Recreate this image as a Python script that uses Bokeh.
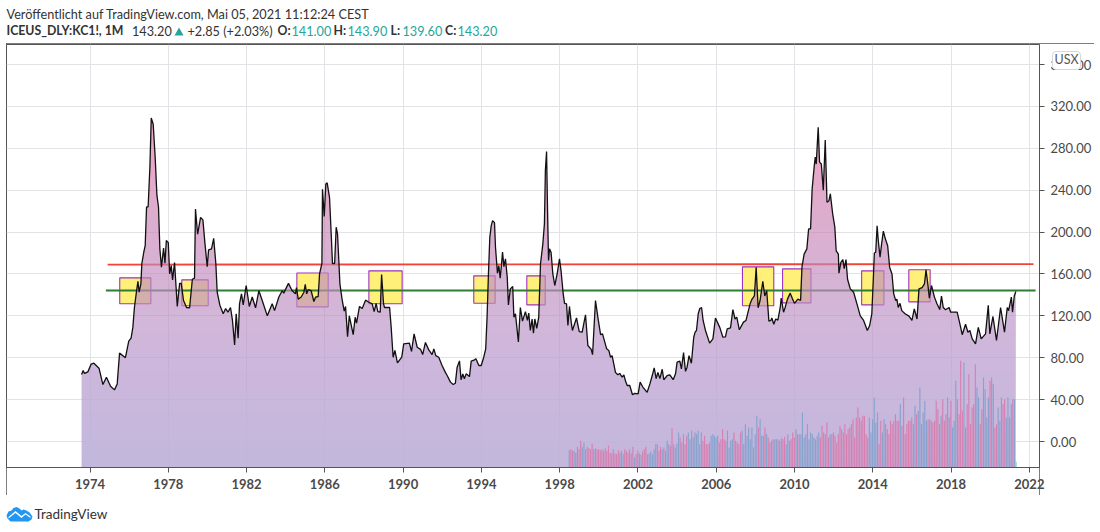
import numpy as np
from bokeh.plotting import figure
from bokeh.embed import file_html
from bokeh.resources import INLINE
from bokeh.layouts import column
from bokeh.models import FixedTicker, NumeralTickFormatter, Range1d, Label, PolyAnnotation, Div

# ---------- price (year, close) ----------
price_points = [
(1973.57,64),(1973.65,67.8),(1973.72,65),(1973.89,66.5),(1974.06,74),(1974.2,74.8),(1974.46,70),(1974.66,54.4),
(1974.84,61.4),(1975.05,52.8),(1975.25,49.3),(1975.39,55),(1975.51,84.4),(1975.81,80),(1975.98,95.8),(1976.1,98.7),
(1976.19,109),(1976.27,128),(1976.38,144),(1976.45,153),(1976.51,142.6),(1976.6,150.6),(1976.65,170),(1976.75,181),
(1976.82,187),(1976.89,224),(1976.97,224),(1977.06,262),(1977.13,309),(1977.23,303),(1977.33,271.6),(1977.42,235),
(1977.5,224),(1977.57,184),(1977.65,166.5),(1977.76,184.7),(1977.83,170.3),(1977.9,192),(1978.0,190),(1978.07,160),
(1978.15,168),(1978.22,154.4),(1978.32,171),(1978.46,129),(1978.58,151),(1978.66,151),(1978.78,134.7),(1978.93,128),
(1979.09,127.7),(1979.23,155),(1979.34,156),(1979.39,222),(1979.5,198),(1979.65,214),(1979.77,211.7),(1979.87,190),
(1979.99,167),(1980.06,183),(1980.21,184),(1980.32,194),(1980.43,170),(1980.5,142.6),(1980.64,130),(1980.81,122),
(1980.93,127),(1981.05,123.5),(1981.18,128),(1981.28,115.6),(1981.39,92.3),(1981.47,122),(1981.57,98.7),(1981.64,131.5),
(1981.74,141),(1981.83,130.5),(1981.98,149),(1982.14,129),(1982.29,138),(1982.46,127.7),(1982.63,144),(1982.8,134.7),
(1983.06,120),(1983.31,131.5),(1983.43,125),(1983.65,138),(1983.82,144),(1983.9,141.7),(1984.14,151),(1984.33,144),
(1984.5,141),(1984.55,147),(1984.64,136),(1984.79,138),(1984.93,142.6),(1985.0,150),(1985.07,141),(1985.15,145),
(1985.3,144),(1985.44,133.7),(1985.53,138),(1985.66,138.5),(1985.73,160),(1985.85,170),(1985.88,241),(1985.97,215),
(1986.05,246),(1986.12,247),(1986.24,233),(1986.34,192),(1986.39,170),(1986.5,170),(1986.58,204.7),(1986.65,198),
(1986.77,150.6),(1986.89,134.7),(1986.99,124.5),(1987.06,129),(1987.16,100),(1987.25,120),(1987.45,102),(1987.55,118.7),
(1987.62,113),(1987.77,129),(1987.91,127),(1988.08,135),(1988.25,133),(1988.42,131.5),(1988.52,124),(1988.62,132),
(1988.71,124),(1988.83,123.5),(1988.9,159.5),(1989.0,131.5),(1989.05,128),(1989.31,128),(1989.39,109),(1989.49,80.5),
(1989.58,87),(1989.71,75),(1989.93,80.5),(1990.03,93.3),(1990.32,94),(1990.43,86),(1990.56,102.8),(1990.72,90),
(1990.89,88),(1991.0,83),(1991.14,94.6),(1991.31,87.5),(1991.48,83),(1991.57,88.5),(1991.67,82),(1991.82,80.5),
(1991.99,72.6),(1992.16,66),(1992.25,63),(1992.42,56.7),(1992.56,54.4),(1992.67,55.7),(1992.76,71),(1992.88,77),
(1992.96,59),(1993.05,64.6),(1993.13,60),(1993.22,64.6),(1993.39,62),(1993.48,76.7),(1993.65,78),(1993.72,79),
(1993.87,72.6),(1993.99,72.6),(1994.12,80.5),(1994.22,88.5),(1994.29,118.8),(1994.36,160),(1994.43,195),(1994.5,206),
(1994.57,211),(1994.67,209),(1994.72,185.6),(1994.82,160.8),(1994.89,168),(1994.96,156),(1995.03,169.7),(1995.08,181),
(1995.15,167),(1995.23,174.5),(1995.32,157),(1995.38,130.5),(1995.48,145.8),(1995.6,148),(1995.66,118.8),(1995.74,122),
(1995.89,95),(1995.99,128),(1996.1,115),(1996.25,124),(1996.35,115.6),(1996.42,122.6),(1996.5,106),(1996.59,117),
(1996.66,103.5),(1996.73,117),(1996.83,108),(1996.93,118.8),(1997.02,169.7),(1997.14,188.8),(1997.22,208),(1997.27,259),
(1997.33,277),(1997.38,220.6),(1997.43,172.9),(1997.48,184),(1997.56,180.8),(1997.65,160),(1997.75,149),(1997.87,160),
(1997.99,174.5),(1998.07,163),(1998.18,141),(1998.25,132),(1998.35,131.5),(1998.42,110.8),(1998.5,129),(1998.59,114),
(1998.65,106),(1998.86,118),(1999.0,105),(1999.15,104.4),(1999.23,112.4),(1999.32,121),(1999.44,91.7),(1999.61,88),
(1999.68,83),(1999.83,134.7),(1999.95,118.8),(2000.09,102),(2000.19,102.8),(2000.4,88.5),(2000.51,87),(2000.6,80.5),
(2000.68,82),(2000.85,66),(2000.97,63.7),(2001.07,65),(2001.19,61.4),(2001.28,63.7),(2001.36,58),(2001.45,53.5),
(2001.58,53.5),(2001.72,44.6),(2001.84,46),(2002.01,45.5),(2002.11,56.7),(2002.25,52),(2002.47,47),(2002.61,55),
(2002.73,63),(2002.83,70.4),(2002.93,60),(2003.02,66),(2003.12,60),(2003.24,69),(2003.32,59),(2003.49,63),
(2003.63,63.7),(2003.8,59),(2003.92,64.6),(2004.0,75.8),(2004.14,76.7),(2004.22,69.4),(2004.33,85),(2004.43,67),
(2004.51,71),(2004.61,82),(2004.73,74.8),(2004.85,99.6),(2004.92,104.4),(2004.99,106),(2005.08,122),(2005.16,127),
(2005.25,128),(2005.33,115.6),(2005.45,106),(2005.66,94),(2005.83,98),(2005.96,118),(2006.18,109),(2006.34,99.6),
(2006.47,100),(2006.56,107.6),(2006.73,108.6),(2006.85,126),(2006.96,117),(2007.05,118.8),(2007.18,106.7),(2007.39,114),
(2007.52,115.6),(2007.73,131.5),(2007.83,136),(2007.95,139),(2008.04,166.5),(2008.14,127.7),(2008.24,134.7),(2008.38,153),
(2008.48,139),(2008.58,144),(2008.69,115),(2008.79,115.6),(2008.84,118),(2008.94,112),(2009.04,117),(2009.15,116),
(2009.27,128),(2009.32,137),(2009.44,123.5),(2009.52,128),(2009.64,136),(2009.78,141.7),(2009.9,136),(2010.0,132),
(2010.17,136),(2010.31,134.7),(2010.38,166.5),(2010.49,179),(2010.63,184),(2010.72,203),(2010.82,203),(2010.9,241),
(2011.01,263.6),(2011.06,271.6),(2011.11,265),(2011.21,300),(2011.28,266.8),(2011.37,265),(2011.47,240),(2011.57,288),
(2011.66,228.6),(2011.76,230),(2011.83,236.5),(2011.95,217.4),(2012.06,204.7),(2012.13,182),(2012.24,179),(2012.27,160.8),
(2012.37,171),(2012.47,173.8),(2012.54,165),(2012.63,173.8),(2012.71,155),(2012.85,145.8),(2013.02,142.6),(2013.19,131.5),
(2013.36,120),(2013.53,115.6),(2013.72,106),(2013.84,110.8),(2013.95,122),(2014.03,157),(2014.08,180),(2014.15,180.8),
(2014.22,206),(2014.28,192),(2014.37,176),(2014.45,188.8),(2014.54,200.9),(2014.64,193.6),(2014.76,187),(2014.86,166.5),
(2014.98,160),(2015.07,141),(2015.17,134.7),(2015.23,136),(2015.3,128),(2015.39,132),(2015.48,125),(2015.65,122),
(2015.85,119.7),(2016.0,115.6),(2016.12,126.7),(2016.26,117),(2016.36,145.8),(2016.52,147),(2016.64,150.6),(2016.72,164),
(2016.81,150.6),(2016.89,137),(2017.0,149),(2017.15,137.9),(2017.28,131.5),(2017.42,126),(2017.51,138.8),(2017.6,128),
(2017.72,125.8),(2017.9,128),(2017.98,123.5),(2018.12,123.5),(2018.31,123.5),(2018.43,114),(2018.57,102),(2018.74,112),
(2018.86,104.4),(2018.96,106),(2019.08,98),(2019.25,93.3),(2019.39,109),(2019.54,98),(2019.76,102.8),(2019.9,130),
(2019.98,102.8),(2020.14,119.4),(2020.32,96.5),(2020.53,128),(2020.73,104.4),(2020.87,128),(2020.94,125),(2021.08,137.9),
(2021.14,123.5),(2021.23,139),(2021.31,143.2),
]
price_years = [a for a, _ in price_points]
price_values = [b for _, b in price_points]

# ---------- monthly volume, Jul 1998 .. May 2021 (relative units) ----------
volume_start = 1998.49
volume_values = [
52,55,50,50,45,62,
55,80,62,75,55,62,58,55,72,55,58,55,
55,52,55,50,58,50,65,45,42,55,42,40,
52,45,50,42,55,50,45,55,42,62,30,40,
50,42,38,48,55,62,40,42,48,40,55,70,
70,50,62,55,60,50,80,70,65,118,70,60,
72,105,90,75,100,70,95,105,85,110,90,105,
100,110,70,105,80,95,70,70,75,95,100,95,
90,95,75,85,115,85,80,110,60,80,85,105,
80,75,70,105,110,70,130,95,120,85,120,60,
100,155,120,145,95,95,120,100,90,75,80,85,
85,85,85,80,88,85,92,70,100,80,85,105,
90,115,100,100,100,165,90,100,130,85,105,100,
90,85,95,105,90,125,105,100,135,90,100,100,
105,95,75,100,125,115,105,130,100,115,120,130,
145,90,150,180,150,140,155,155,100,90,150,105,
145,210,135,165,70,140,105,145,130,115,100,140,
130,140,160,140,140,190,125,210,100,130,140,140,
150,130,185,160,170,240,130,165,200,140,145,145,
140,135,140,200,175,130,155,205,140,160,210,150,
200,120,140,260,205,160,320,170,315,120,190,280,
130,180,190,310,240,210,130,175,270,235,150,210,
260,270,250,120,130,180,140,210,190,205,150,210,
150,190,205,205,17,
]

# ---------- drawings ----------
box_x0 = [1975.52,1978.69,1984.57,1988.25,1993.61,1996.32,2007.34,2009.39,2013.43,2015.84]
box_x1 = [1977.11,1980.04,1986.17,1989.95,1994.70,1997.26,2008.94,2010.84,2014.57,2016.93]
box_y0 = [131.5,129.6,128.6,131.5,132.1,130.5,129.6,132.4,130.5,133.4]
box_y1 = [156.3,154.4,161.0,163.0,158.2,158.2,166.8,164.9,163.0,164.0]
red_x, red_y = [1974.9, 2022.21], [169.0, 169.4]
green_x, green_y = [1974.81, 2022.32], [144.2, 144.2]

year_ticks = [1974+4*i for i in range(13)]
price_ticks = [40*i for i in range(10)]

LBL = "Lato"
FRAME = "#555555"

# ---------- main chart: figure occupies x 6..1093, y 43..495 of the page ----------
W, H = 1087, 452
L, R, T, B = 0, 1033, 1, 424
px_per_year, px_per_unit = 19.57, 1.047
ZERO_Y, X74 = 398, 83.5
x0 = 1974 - (X74-L)/px_per_year
x1 = 1974 + (R-X74)/px_per_year
y0 = -(B-ZERO_Y)/px_per_unit
y1 = (ZERO_Y-T)/px_per_unit

p = figure(width=W, height=H, output_backend="svg", toolbar_location=None,
           x_range=Range1d(x0, x1), y_range=Range1d(y0, y1),
           y_axis_location="right", x_axis_location="below",
           min_border_left=L, min_border_right=W-R, min_border_top=T, min_border_bottom=H-B,
           frame_width=R-L, frame_height=B-T, background_fill_color="white",
           border_fill_color="white", margin=(0, 0, 0, 6),
           styles={"outline": "1px solid "+FRAME, "outline-offset": "-1px"})
p.extra_y_ranges = {"vol": Range1d(0, (B-T)*3)}
p.outline_line_color = FRAME

for ax, ticks in ((p.xaxis[0], year_ticks), (p.yaxis[0], price_ticks)):
    ax.ticker = FixedTicker(ticks=ticks)
    ax.minor_tick_line_color = None
    ax.axis_line_color = FRAME
    ax.major_tick_line_color = FRAME
    ax.major_tick_in = 0
    ax.major_tick_out = 5
    ax.major_label_text_color = "#4a4a4a"
    ax.major_label_text_font = LBL
    ax.major_label_text_font_size = "13px"
    ax.major_label_standoff = 6
p.xaxis[0].formatter = NumeralTickFormatter(format="0")
p.yaxis[0].formatter = NumeralTickFormatter(format="0.00")
p.xaxis[0].major_label_text_font_style = "bold"
p.grid.grid_line_color = "#e2e3e6"
p.grid.grid_line_width = 1
p.xgrid.ticker = FixedTicker(ticks=year_ticks)
p.ygrid.ticker = FixedTicker(ticks=price_ticks)

# below the area
p.quad(left=box_x0, right=box_x1, bottom=box_y0, top=box_y1, fill_color="#fff07a",
       line_color="#a030c0", line_width=1.1)
p.line(red_x, red_y, line_color="#f44336", line_width=1.8)
p.line(green_x, green_y, line_color="#2e7d32", line_width=1.8)

# area: one translucent pink layer, with nested lavender layers for the vertical gradient
xs = np.array(price_years); vs = np.array(price_values)
p.varea(xs, y0, vs, fill_color="#d4649f", fill_alpha=0.56)
for lev in np.linspace(-20, 260, 30):
    p.varea(xs, y0, np.minimum(vs, lev), fill_color="#c8d0f8", fill_alpha=0.026)

# volume
vol = np.array(volume_values, float)
vol_x = volume_start + np.arange(len(vol))/12
px_at = np.interp(vol_x, xs, vs)
px_prev = np.interp(vol_x-1/12, xs, vs)
cols = ["#86a2cd" if u else "#d67fb0" for u in (px_at >= px_prev)]
cols[-1] = "#7fd3c8"
p.vbar(x=vol_x, top=vol, bottom=0, width=0.058, fill_color=cols, line_color=None, y_range_name="vol")

p.line(xs, vs, line_color="#111111", line_width=1.3)


def strip(width, height, **kw):
    """A figure without axes whose frame fills it, for text outside the chart frame."""
    f = figure(width=width, height=height, output_backend="svg", toolbar_location=None,
               x_axis_location=None, y_axis_location=None, min_border=0,
               x_range=Range1d(0, width), y_range=Range1d(height, 0), **kw)
    f.grid.visible = False
    f.outline_line_color = None
    return f


def txt(f, s, x, y, size="13px", color="#333333", style="normal"):
    f.add_layout(Label(x=x, y=y, x_units="canvas", y_units="canvas", text=s, text_font=LBL,
                       text_font_size=size, text_color=color, text_font_style=style,
                       text_baseline="middle"))


TEAL = "#26a69a"
head = strip(1100, 43)
HS = "12.7px"
HB = "12.3px"
txt(head, "Veröffentlicht auf TradingView.com, Mai 05, 2021 11:12:24 CEST", 6, 13, HS)
txt(head, "ICEUS_DLY:KC1!, 1M", 6, 30, HB, style="bold")
txt(head, "143.20", 131.5, 30, HS)
head.add_layout(PolyAnnotation(xs=[174, 183, 178.5], ys=[35, 35, 27], xs_units="canvas", ys_units="canvas",
                               fill_color=TEAL, fill_alpha=1, line_color=None))
txt(head, "+2.85 (+2.03%)", 187, 30, HS)
for lab, lx, val, vx in (("O:", 277, "141.00", 291), ("H:", 333, "143.90", 347),
                         ("L:", 390, "139.60", 402), ("C:", 444.5, "143.20", 457)):
    txt(head, lab, lx, 30, HB, style="bold")
    txt(head, val, vx, 30, HS, color=TEAL)

# currency tag laid over the price axis
usx = Div(text="USX", width=29, height=19, margin=(-444, 0, 425, 1052),
          styles={"background": "white", "border": "1px solid #d8d8d8", "border-radius": "4px",
                  "box-sizing": "border-box", "text-align": "center", "font-family": LBL,
                  "font-size": "12.5px", "line-height": "16px", "color": "#555555"})

# stub of the price-axis border below the time axis
stub = strip(1, 28, margin=(-28, 0, 0, 1039), background_fill_color=FRAME, border_fill_color=FRAME)

foot = strip(1100, 37)
oy = 495
foot.add_layout(PolyAnnotation(
    xs=[10,7,6,8,11,13,16,19,21,23,26,29,32,31,28],
    ys=[v-oy for v in [521,518,515,511,510,507.5,506.5,508,510,509,510,512,516,519,521]],
    xs_units="canvas", ys_units="canvas", fill_color="#2196f3", fill_alpha=1, line_color=None))
foot.add_layout(PolyAnnotation(
    xs=[8,15,21,25,30,30,25,21,15,8],
    ys=[v-oy for v in [516.5,510.5,515.5,512.5,516,517.5,514,517.5,512.5,518]],
    xs_units="canvas", ys_units="canvas", fill_color="white", fill_alpha=1, line_color=None))
txt(foot, "TradingView", 34, 513.5-oy, "13.5px")

page = column(head, p, usx, stub, foot, spacing=0)
open("out.html", "w").write(file_html(page, INLINE))
